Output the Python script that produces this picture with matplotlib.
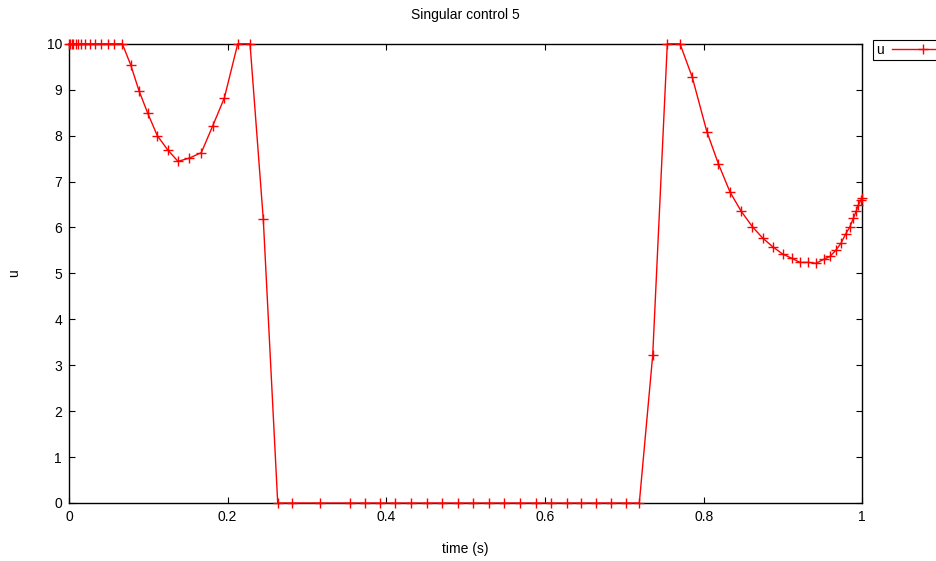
import matplotlib
matplotlib.use("Agg")
import matplotlib.pyplot as plt
from matplotlib.lines import Line2D

plt.rcParams['font.family'] = ['Liberation Sans', 'DejaVu Sans']

title = "Singular control 5"
xlabel = "time (s)"
ylabel = "u"
series_label = "u"

time = [0.0, 0.0015, 0.0032, 0.0054, 0.0084, 0.0118, 0.0151, 0.0202, 0.0265,
        0.0328, 0.0403, 0.0488, 0.0571, 0.0672,
        0.0778, 0.0882, 0.0992, 0.1113, 0.1244, 0.1374, 0.1516, 0.1668,
        0.1811, 0.1958, 0.2127, 0.2282, 0.2449, 0.2631,
        0.2807, 0.3164, 0.3542, 0.3731, 0.3920, 0.4109, 0.4311, 0.4509,
        0.4698, 0.4900, 0.5096, 0.5291, 0.5487, 0.5685, 0.5887, 0.6076,
        0.6274, 0.6454, 0.6643, 0.6832, 0.7018, 0.7189,
        0.7358, 0.7542, 0.7702, 0.7857, 0.8040, 0.8185, 0.8333, 0.8471,
        0.8613, 0.8744, 0.8871, 0.8997, 0.9110, 0.9215, 0.9319, 0.9416,
        0.9517, 0.9593, 0.9669, 0.9732, 0.9791, 0.9845, 0.9887, 0.9921,
        0.9950, 0.9980, 1.0]
u = [10, 10, 10, 10, 10, 10, 10, 10, 10,
     10, 10, 10, 10, 10,
     9.54, 8.98, 8.49, 8.00, 7.69, 7.44, 7.51, 7.63,
     8.21, 8.82, 10, 10, 6.18, 0,
     0, 0, 0, 0, 0, 0, 0, 0,
     0, 0, 0, 0, 0, 0, 0, 0,
     0, 0, 0, 0, 0, 0,
     3.22, 10, 10, 9.27, 8.09, 7.39, 6.77, 6.36,
     6.02, 5.77, 5.58, 5.42, 5.33, 5.24, 5.24, 5.22,
     5.31, 5.37, 5.51, 5.66, 5.86, 6.02, 6.20, 6.35,
     6.49, 6.59, 6.64]

xticks = [0, 0.2, 0.4, 0.6, 0.8, 1]
xticklabels = ["0", "0.2", "0.4", "0.6", "0.8", "1"]
yticks = list(range(0, 11))

fig = plt.figure(figsize=(9.37, 5.61), dpi=100)
ax = fig.add_axes([69/937, 1-503/561, (862.3-69)/937, (503-43.8)/561])

ax.plot(time, u, color='red', lw=1.0, marker='+', markersize=6.5,
        markeredgewidth=1.0, clip_on=False, zorder=3)

ax.set_xlim(0, 1)
ax.set_ylim(0, 10)
ax.set_xticks(xticks)
ax.set_xticklabels(xticklabels)
ax.set_yticks(yticks)
ax.tick_params(direction='in', length=4.5, width=0.8, top=True, right=True,
               labelsize=10, pad=5, colors='black')
for s in ax.spines.values():
    s.set_linewidth(1.0)
    s.set_color('black')

ax.set_title(title, fontsize=10, pad=18)
ax.set_xlabel(xlabel, fontsize=10, labelpad=13)
ax.set_ylabel(ylabel, fontsize=10)
ax.yaxis.set_label_coords((21 - 69) / 793.3, 0.5)

handle = Line2D([], [], color='red', lw=1.0, marker='+', markersize=6.5,
                markeredgewidth=1.0)
leg = fig.legend([handle], [series_label], loc='upper left',
                 bbox_to_anchor=(873/937, 1-40/561), markerfirst=True,
                 handlelength=4.5, handletextpad=0.6, borderpad=0.2,
                 fancybox=False, framealpha=1, edgecolor='black', fontsize=10,
                 borderaxespad=0)
leg.get_frame().set_linewidth(0.8)
# text on the left of the sample, as in gnuplot
leg._legend_handle_box.get_children()[0].get_children()[0].get_children().reverse()

fig.savefig("out.png", dpi=100)
